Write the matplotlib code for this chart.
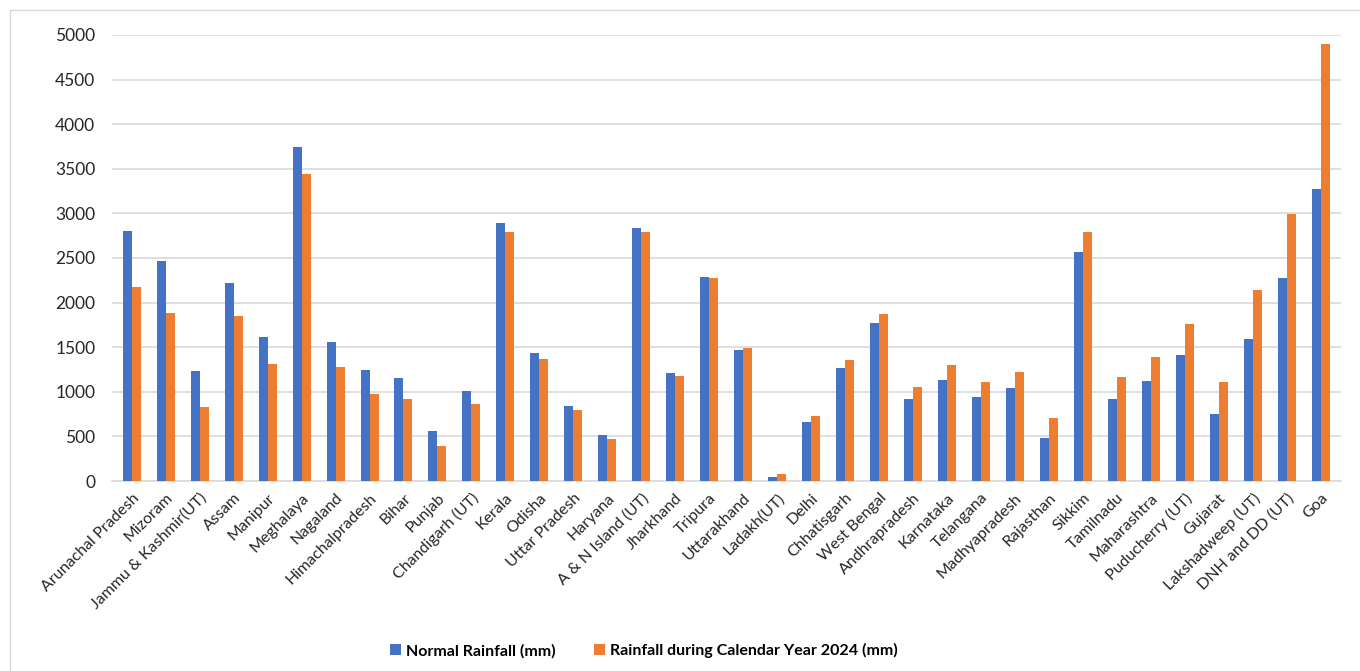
"""
Normal vs 2024 calendar-year rainfall by state / UT, grouped bar chart.
"""

import numpy as np
import matplotlib.pyplot as plt
from matplotlib.lines import Line2D

plt.rcParams['font.family'] = ['Lato', 'DejaVu Sans']

# Data
states = ['Arunachal Pradesh', 'Mizoram', 'Jammu & Kashmir(UT)', 'Assam', 'Manipur',
          'Meghalaya', 'Nagaland', 'Himachalpradesh', 'Bihar', 'Punjab',
          'Chandigarh (UT)', 'Kerala', 'Odisha', 'Uttar Pradesh', 'Haryana',
          'A & N Island (UT)', 'Jharkhand', 'Tripura', 'Uttarakhand', 'Ladakh(UT)',
          'Delhi', 'Chhatisgarh', 'West Bengal', 'Andhrapradesh', 'Karnataka',
          'Telangana', 'Madhyapradesh', 'Rajasthan', 'Sikkim', 'Tamilnadu',
          'Maharashtra', 'Puducherry (UT)', 'Gujarat', 'Lakshadweep (UT)',
          'DNH and DD (UT)', 'Goa']
normal_rain = [2806, 2462, 1231, 2215, 1620, 3749, 1557, 1242, 1160, 561,
               1010, 2889, 1441, 842, 520, 2836, 1216, 2286, 1471, 45,
               659, 1265, 1774, 917, 1134, 939, 1040, 486, 2563, 917,
               1123, 1418, 748, 1587, 2279, 3278]
rain_2024 = [2178, 1886, 831, 1845, 1310, 3443, 1280, 980, 917, 389,
             868, 2792, 1370, 793, 475, 2792, 1179, 2279, 1486, 75,
             730, 1362, 1871, 1055, 1302, 1111, 1224, 707, 2792, 1171,
             1388, 1759, 1111, 2140, 2994, 4902]
y_ticks = [0, 500, 1000, 1500, 2000, 2500, 3000, 3500, 4000, 4500, 5000]

COLOR_NORMAL = '#4472C4'
COLOR_2024 = '#ED7D31'
COLOR_GRID = '#D9D9D9'
COLOR_TEXT = '#262626'

fig = plt.figure(figsize=(13.6, 6.71), dpi=100)
ax = fig.add_axes([0.0824, 0.283, 0.9036, 0.665])

x = np.arange(len(states))
w = 0.265
ax.bar(x - w / 2, normal_rain, w, color=COLOR_NORMAL, label='Normal Rainfall (mm)', zorder=3)
ax.bar(x + w / 2, rain_2024, w, color=COLOR_2024,
       label='Rainfall during Calendar Year 2024 (mm)', zorder=3)

ax.set_xlim(-0.58, len(states) - 0.4)
ax.set_ylim(0, 5000)
ax.set_yticks(y_ticks)
ax.set_yticklabels([str(v) for v in y_ticks], fontsize=12.5, color=COLOR_TEXT)
ax.set_xticks(x)
ax.set_xticklabels(states, rotation=45, ha='right', rotation_mode='anchor',
                   fontsize=11.5, color=COLOR_TEXT)
ax.tick_params(axis='both', length=0)
ax.tick_params(axis='y', pad=12)
ax.tick_params(axis='x', pad=7)

ax.yaxis.grid(True, color=COLOR_GRID, linewidth=1.2, zorder=0)
for side in ['top', 'right', 'left']:
    ax.spines[side].set_visible(False)
ax.spines['bottom'].set_color(COLOR_GRID)
ax.spines['bottom'].set_linewidth(1.2)

# Legend below the chart
fig.legend(loc='center', bbox_to_anchor=(0.4735, 0.03), ncol=2, frameon=False,
           prop={'weight': 'bold', 'size': 11.5}, handlelength=0.7, handleheight=0.7,
           handletextpad=0.3, columnspacing=2.4)

# Light frame on the left and top edges
fig.add_artist(Line2D([10 / 1360, 10 / 1360], [0, 1 - 10 / 671],
                      transform=fig.transFigure, color='#D9D9D9', linewidth=1))
fig.add_artist(Line2D([10 / 1360, 1], [1 - 10 / 671, 1 - 10 / 671],
                      transform=fig.transFigure, color='#D9D9D9', linewidth=1))

fig.savefig('out.png', dpi=100, facecolor='white')
plt.close(fig)
